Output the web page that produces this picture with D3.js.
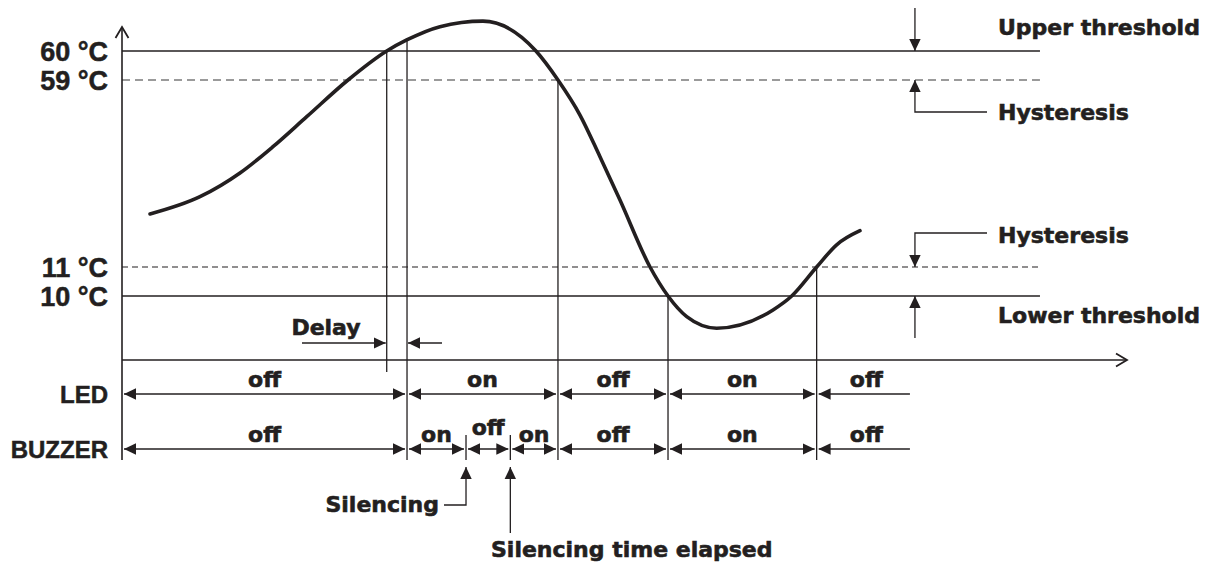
<!DOCTYPE html>
<html>
<head>
<meta charset="utf-8">
<script src="https://cdn.jsdelivr.net/npm/d3@7"></script>
<style>
  body { margin: 0; background: #fff; }
  text { fill: #231f20; stroke: #231f20; }
  .lab { font-family: "Liberation Sans", Arial, sans-serif; font-weight: bold; stroke-width: 0.5px; }
  .ann { font-family: "DejaVu Sans", Verdana, sans-serif; font-weight: bold; font-size: 22px; stroke-width: 0.6px; }
</style>
</head>
<body>
<div id="chart"></div>
<script>
// temperature curve (time units, °C)
const curveTime = [2.79, 7.76, 11.74, 15.02, 18.38, 22.49, 26.34, 28.33, 31.64, 35.92, 41.19, 43.38,
                   45.57, 47.56, 49.55, 52.54, 54.33, 56.19, 59.17, 64.78, 66.64, 69.12, 71.11, 73.43]
const curveTemp = [24.6, 29.04, 35.13, 41.88, 49.58, 59.0, 60.0, 60.38, 60.84, 61.03, 60.0, 59.0,
                   50.01, 39.31, 28.2, 11.0, 10.0, 9.29, 8.89, 9.52, 10.0, 11.0, 16.7, 20.32]

// threshold lines
const thresholdTemps = [60, 59, 11, 10]
const thresholdLabels = ["60 °C", "59 °C", "11 °C", "10 °C"]
const thresholdDashed = [false, true, true, false]

// switching events: time and the temperature where the vertical starts
const eventTimes = [26.34, 28.36, 43.38, 54.33, 69.12]
const eventTemps = [60, 60.38, 59, 10, 11]

// output states
const ledBounds = [0, 28.36, 43.38, 54.33, 69.12, 78.4]
const ledLabels = ["off", "on", "off", "on", "off"]
const buzzerBounds = [0, 28.36, 34.23, 38.64, 43.38, 54.33, 69.12, 78.4]
const buzzerLabels = ["off", "on", "off", "on", "off", "on", "off"]
const silencingTimes = [34.23, 38.64]

const W = 1219, H = 567
const ink = "#231f20"

var x = d3.scaleLinear().domain([0, 100]).range([122, 1127])
// schematic, not linear: the hysteresis bands are drawn wide
var y = d3.scaleLinear().domain([10, 11, 59, 60]).range([296, 267, 80, 51])

const axisY = 360, ledY = 394, buzY = 449, rowBottom = 460
const lineEnd = x(91.34), annX = x(78.9), annTextX = 998

const svg = d3.select("#chart")
  .append("svg")
  .attr("width", W)
  .attr("height", H)

// markers
const defs = svg.append("defs")
defs.append("marker")
  .attr("id", "tri")
  .attr("markerUnits", "userSpaceOnUse")
  .attr("viewBox", "0 0 12 12")
  .attr("refX", 12).attr("refY", 6)
  .attr("markerWidth", 12).attr("markerHeight", 12)
  .attr("orient", "auto-start-reverse")
  .append("path")
  .attr("d", "M0,0.3 L12,6 L0,11.7 Z")
  .attr("fill", ink)

// threshold lines
svg.selectAll(".thr")
  .data(thresholdTemps)
  .enter()
  .append("line")
  .attr("x1", x(0)).attr("x2", lineEnd)
  .attr("y1", d => y(d)).attr("y2", d => y(d))
  .attr("stroke", (d, i) => i == 1 ? "#7a7a7a" : ink)
  .attr("stroke-width", (d, i) => i == 2 ? 1.2 : 1.6)
  .attr("stroke-dasharray", (d, i) => thresholdDashed[i] ? (i == 1 ? "8,5" : "6,4") : null)

svg.selectAll(".thrlab")
  .data(thresholdTemps)
  .enter()
  .append("text")
  .attr("class", "lab")
  .attr("x", 108)
  .attr("y", d => y(d))
  .attr("dy", "0.36em")
  .attr("text-anchor", "end")
  .style("font-size", "27px")
  .text((d, i) => thresholdLabels[i])

// vertical event lines
svg.selectAll(".ev")
  .data(eventTimes)
  .enter()
  .append("line")
  .attr("x1", d => x(d)).attr("x2", d => x(d))
  .attr("y1", (d, i) => y(eventTemps[i]))
  .attr("y2", (d, i) => i == 0 ? 372 : rowBottom)
  .attr("stroke", ink)
  .attr("stroke-width", 1.3)

// the curve
var valueline = d3.line()
  .x(d => x(d[0]))
  .y(d => y(d[1]))
  .curve(d3.curveMonotoneX)

svg.append("path")
  .datum(curveTime.map((t, i) => [t, curveTemp[i]]))
  .attr("fill", "none")
  .attr("stroke", ink)
  .attr("stroke-width", 3.6)
  .attr("stroke-linecap", "round")
  .attr("d", valueline)

// axes
svg.append("line")
  .attr("x1", x(0)).attr("x2", x(0))
  .attr("y1", 28).attr("y2", rowBottom)
  .attr("stroke", ink).attr("stroke-width", 1.6)
svg.append("path")
  .attr("d", `M${x(0) - 6.5},38 L${x(0)},27 L${x(0) + 6.5},38`)
  .attr("fill", "none").attr("stroke", ink).attr("stroke-width", 1.8)

svg.append("line")
  .attr("x1", x(0)).attr("x2", x(100) - 1)
  .attr("y1", axisY).attr("y2", axisY)
  .attr("stroke", ink).attr("stroke-width", 1.6)
svg.append("path")
  .attr("d", `M${x(100) - 11},${axisY - 6.5} L${x(100)},${axisY} L${x(100) - 11},${axisY + 6.5}`)
  .attr("fill", "none").attr("stroke", ink).attr("stroke-width", 1.8)

// delay arrows
svg.append("line")
  .attr("x1", x(17.91)).attr("x2", x(26.34) - 1)
  .attr("y1", 343).attr("y2", 343)
  .attr("stroke", ink).attr("stroke-width", 1.3)
  .attr("marker-end", "url(#tri)")
svg.append("line")
  .attr("x1", x(31.84)).attr("x2", x(28.36) + 1)
  .attr("y1", 343).attr("y2", 343)
  .attr("stroke", ink).attr("stroke-width", 1.3)
  .attr("marker-end", "url(#tri)")
svg.append("text")
  .attr("class", "ann")
  .attr("x", 326).attr("y", 335)
  .attr("text-anchor", "middle")
  .text("Delay")

// state rows
function drawRow(bounds, labels, rowY, lift) {
  const segs = labels.map((l, i) => ({ a: bounds[i], b: bounds[i + 1], label: l, last: i == labels.length - 1 }))
  svg.selectAll(null)
    .data(segs)
    .enter()
    .append("line")
    .attr("x1", d => x(d.a) + 2)
    .attr("x2", d => d.last ? x(d.b) : x(d.b) - 2)
    .attr("y1", rowY).attr("y2", rowY)
    .attr("stroke", ink).attr("stroke-width", 1.3)
    .attr("marker-start", "url(#tri)")
    .attr("marker-end", d => d.last ? null : "url(#tri)")
  svg.selectAll(null)
    .data(segs)
    .enter()
    .append("text")
    .attr("class", "ann")
    .attr("x", d => (x(d.a) + x(d.b)) / 2 + (d.last ? 3 : 0))
    .attr("y", (d, i) => rowY - lift(i))
    .attr("text-anchor", "middle")
    .text(d => d.label)
}
drawRow(ledBounds, ledLabels, ledY, () => 7)
drawRow(buzzerBounds, buzzerLabels, buzY, i => i == 2 ? 14 : 7)

svg.selectAll(".rowlab")
  .data([["LED", ledY], ["BUZZER", buzY]])
  .enter()
  .append("text")
  .attr("class", "lab")
  .attr("x", 108)
  .attr("y", d => d[1])
  .attr("dy", "0.36em")
  .attr("text-anchor", "end")
  .style("font-size", "24px")
  .text(d => d[0])

// silencing ticks and callouts
svg.selectAll(".sil")
  .data(silencingTimes)
  .enter()
  .append("line")
  .attr("x1", d => x(d)).attr("x2", d => x(d))
  .attr("y1", 435).attr("y2", rowBottom)
  .attr("stroke", ink).attr("stroke-width", 1.3)

svg.append("path")
  .attr("d", `M444,505 H${x(silencingTimes[0])} V467`)
  .attr("fill", "none").attr("stroke", ink).attr("stroke-width", 1.3)
  .attr("marker-end", "url(#tri)")
svg.append("path")
  .attr("d", `M${x(silencingTimes[1])},533 V467`)
  .attr("fill", "none").attr("stroke", ink).attr("stroke-width", 1.3)
  .attr("marker-end", "url(#tri)")
svg.append("text")
  .attr("class", "ann")
  .attr("x", 439).attr("y", 512)
  .attr("text-anchor", "end")
  .text("Silencing")
svg.append("text")
  .attr("class", "ann")
  .attr("x", 491).attr("y", 557)
  .text("Silencing time elapsed")

// right-hand annotations
const annPaths = [
  `M${annX},8 V${y(60)}`,
  `M987,112 H${annX} V${y(59)}`,
  `M987,233 H${annX} V${y(11)}`,
  `M${annX},338 V${y(10)}`
]
svg.selectAll(".annp")
  .data(annPaths)
  .enter()
  .append("path")
  .attr("d", d => d)
  .attr("fill", "none").attr("stroke", ink).attr("stroke-width", 1.3)
  .attr("marker-end", "url(#tri)")

svg.selectAll(".annt")
  .data([["Upper threshold", 35], ["Hysteresis", 120], ["Hysteresis", 243], ["Lower threshold", 323]])
  .enter()
  .append("text")
  .attr("class", "ann")
  .attr("x", annTextX)
  .attr("y", d => d[1])
  .text(d => d[0])
</script>
</body>
</html>
